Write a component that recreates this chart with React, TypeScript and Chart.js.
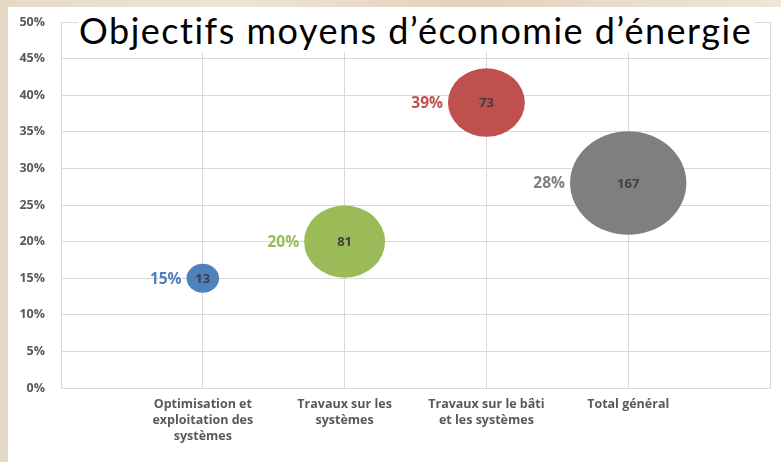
import React, { useEffect, useRef } from "react";
import { Chart, registerables } from "chart.js";

Chart.register(...registerables);

const categories: string[][] = [
  ["Optimisation et", "exploitation des", "systèmes"],
  ["Travaux sur les", "systèmes"],
  ["Travaux sur le bâti", "et les systèmes"],
  ["Total général"],
];
const percentValues = [15, 20, 39, 28];
const bubbleSizes = [13, 81, 73, 167];
const bubbleColors = ["#4F81BD", "#9BBB59", "#C0504D", "#7F7F7F"];
const yTicks = [0, 5, 10, 15, 20, 25, 30, 35, 40, 45, 50];
const titleText = "Objectifs moyens d’économie d’énergie";

const ellipsePlugin = {
  id: "ellipseBubbles",
  afterDatasetsDraw(chart: any) {
    const ctx = chart.ctx;
    chart.data.datasets.forEach((ds: any, di: number) => {
      const meta = chart.getDatasetMeta(di);
      meta.data.forEach((el: any, i: number) => {
        const rx = el.options.radius;
        const ry = rx * 0.89;
        ctx.save();
        ctx.beginPath();
        ctx.ellipse(el.x, el.y, rx, ry, 0, 0, Math.PI * 2);
        ctx.fillStyle = ds.fillColor;
        ctx.fill();
        ctx.font = "bold 13px 'Open Sans', sans-serif";
        ctx.fillStyle = "#404040";
        ctx.textAlign = "center";
        ctx.textBaseline = "middle";
        ctx.fillText(String(ds.data[i].size), el.x, el.y + 1);
        ctx.font = "bold 15.5px 'Open Sans', sans-serif";
        ctx.fillStyle = ds.fillColor;
        ctx.textAlign = "right";
        ctx.fillText(ds.data[i].y + "%", el.x - rx - 5, el.y + 1);
        ctx.restore();
      });
    });
  },
};

export default function App() {
  const ref = useRef<HTMLCanvasElement>(null);
  useEffect(() => {
    const datasets = percentValues.map((v, i) => ({
      label: categories[i].join(" "),
      data: [{ x: i + 1, y: v, r: 4.5 * Math.sqrt(bubbleSizes[i]), size: bubbleSizes[i] }],
      backgroundColor: "rgba(0,0,0,0)",
      borderColor: "rgba(0,0,0,0)",
      borderWidth: 0,
      fillColor: bubbleColors[i],
    }));
    const chart = new Chart(ref.current!, {
      type: "bubble",
      data: { datasets: datasets as any },
      options: {
        animation: false,
        responsive: true,
        maintainAspectRatio: false,
        layout: { autoPadding: false, padding: { top: 15, right: 11, left: 0, bottom: 0 } },
        plugins: { legend: { display: false }, tooltip: { enabled: false }, title: { display: false } },
        scales: {
          x: {
            type: "linear",
            min: 0,
            max: 5,
            afterFit: (s: any) => { s.height = 74; },
            afterBuildTicks: (s: any) => { s.ticks = [0, 1, 2, 3, 4, 5].map((v) => ({ value: v })); },
            grid: { color: "#D9D9D9", drawTicks: false },
            border: { color: "#D9D9D9" },
            ticks: {
              padding: 8,
              maxRotation: 0,
              autoSkip: false,
              color: "#595959",
              font: { family: "'Open Sans', sans-serif", size: 12.5, weight: "bold", lineHeight: 1.3 },
              callback: (v: any) => (v >= 1 && v <= 4 ? categories[v - 1] : ""),
            },
          },
          y: {
            min: 0,
            max: 50,
            afterFit: (s: any) => { s.width = 53; },
            afterBuildTicks: (s: any) => { s.ticks = yTicks.map((v) => ({ value: v })); },
            grid: { color: "#D9D9D9", drawTicks: true, tickLength: 16, tickColor: "rgba(0,0,0,0)" },
            border: { color: "#D9D9D9" },
            ticks: {
              padding: 0,
              color: "#595959",
              font: { family: "'Open Sans', sans-serif", size: 12.5, weight: "bold" },
              callback: (v: any) => v + "%",
            },
          },
        },
      },
      plugins: [ellipsePlugin],
    });
    return () => chart.destroy();
  }, []);

  return (
    <div style={{ position: "fixed", left: 0, top: 0, width: 781, height: 462, overflow: "hidden", background: "linear-gradient(90deg, #e6d9c6 0%, #efe4d4 30%, #e2d2bb 60%, #efe6d8 100%)" }}>
      <div style={{ position: "absolute", left: 8, top: 7, width: 773, height: 455, background: "#fff" }}>
        <canvas ref={ref} />
        <div style={{ position: "absolute", left: 70, top: 0, width: 676, height: 45, background: "#fff", color: "#000", fontFamily: "Lato, sans-serif", fontSize: 36, letterSpacing: "1.5px", lineHeight: "46px", whiteSpace: "nowrap", paddingLeft: 1 }}>
          {titleText}
        </div>
      </div>
    </div>
  );
}
